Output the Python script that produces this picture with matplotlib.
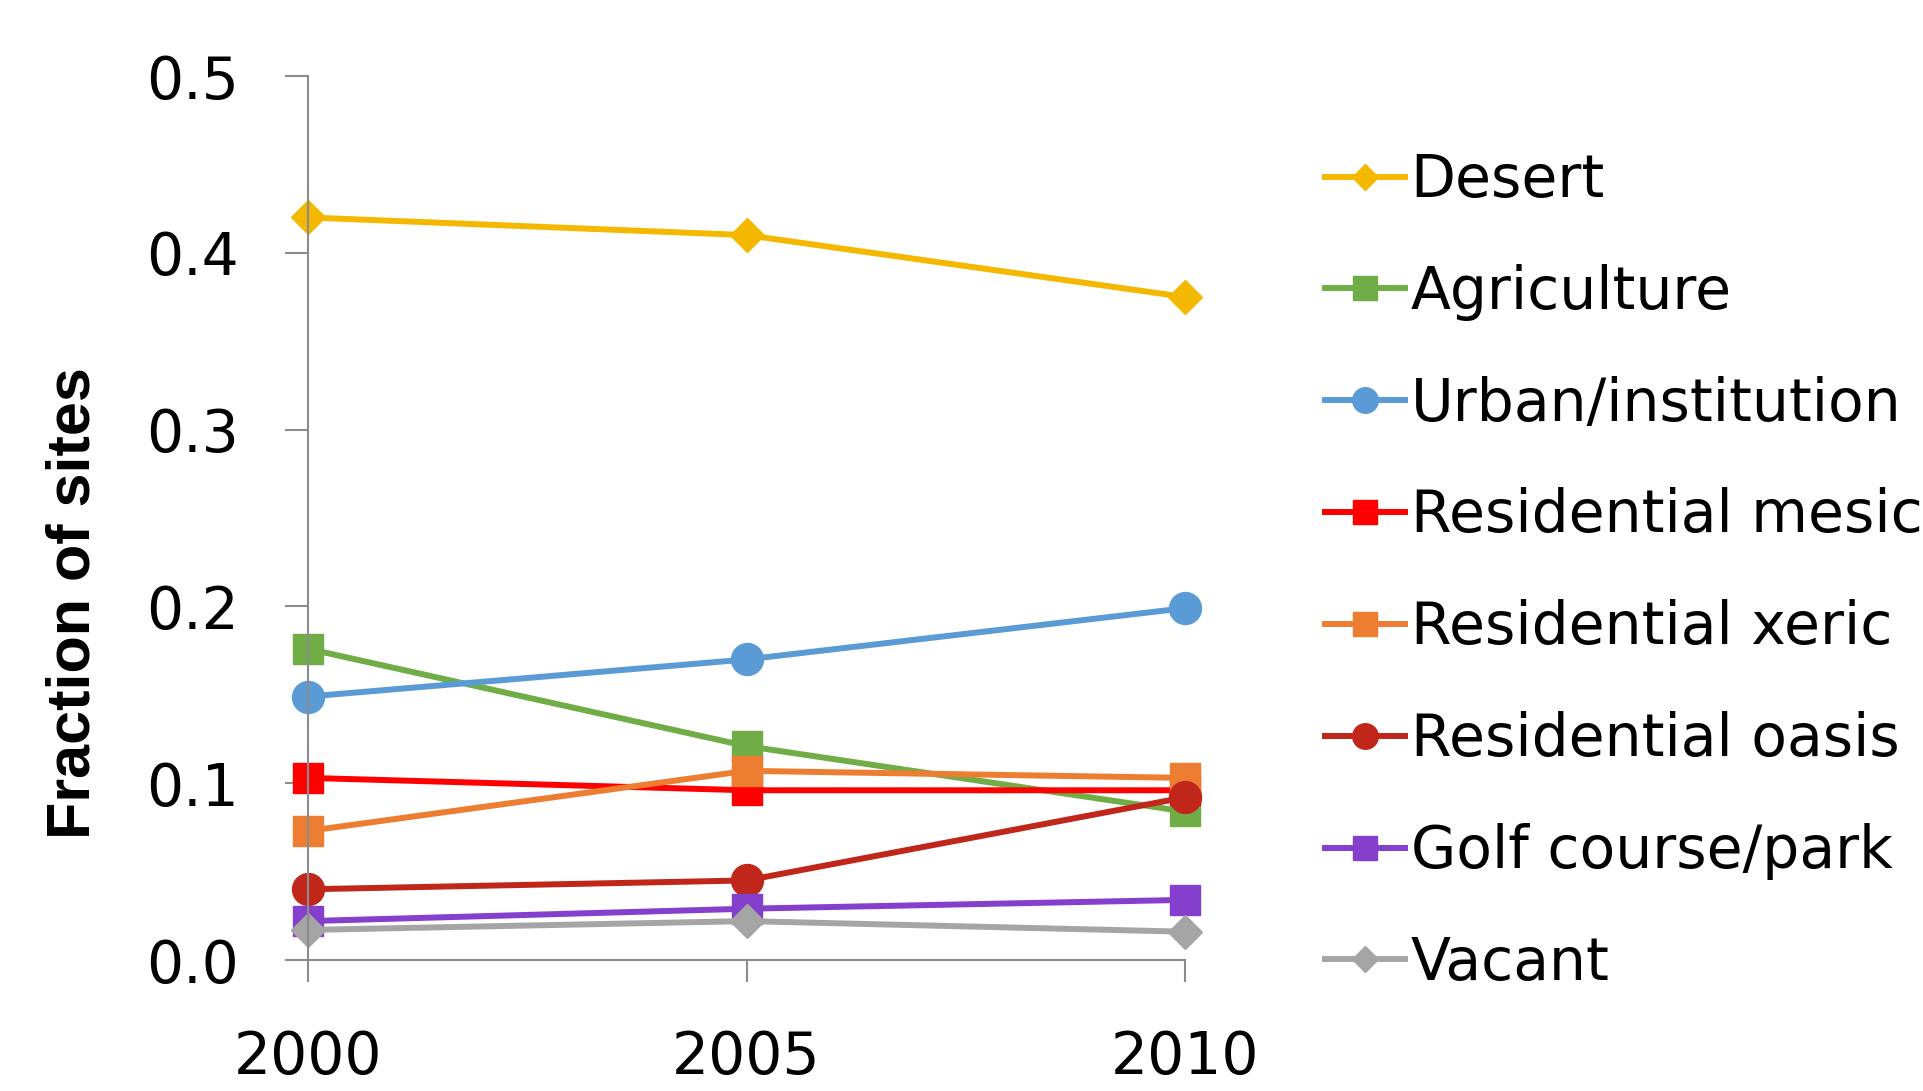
import matplotlib
matplotlib.use("Agg")
import matplotlib.pyplot as plt

years = [2000, 2005, 2010]
labels = ["Desert", "Agriculture", "Urban/institution", "Residential mesic",
          "Residential xeric", "Residential oasis", "Golf course/park", "Vacant"]
desert = [0.420, 0.410, 0.375]
agriculture = [0.176, 0.121, 0.084]
urban = [0.149, 0.170, 0.199]
res_mesic = [0.103, 0.096, 0.096]
res_xeric = [0.073, 0.107, 0.103]
res_oasis = [0.040, 0.045, 0.092]
golf = [0.022, 0.029, 0.034]
vacant = [0.017, 0.022, 0.016]
yticks = [0.0, 0.1, 0.2, 0.3, 0.4, 0.5]

series = [desert, agriculture, urban, res_mesic, res_xeric, res_oasis, golf, vacant]
colors = ["#F5B800", "#70AD47", "#5B9BD5", "#FF0000", "#ED7D31", "#C0271A", "#8440CC", "#A5A5A5"]
markers = ["D", "s", "o", "s", "s", "o", "s", "D"]
msizes = [17, 21, 23, 21, 21, 23, 21, 17]

fig = plt.figure(figsize=(19.23, 10.91), dpi=100)
ax = fig.add_axes([308/1923, 1-960/1091, (1185-308)/1923, (960-76)/1091])

for vals, lab, c, m, ms in zip(series, labels, colors, markers, msizes):
    ax.plot(years, vals, color=c, lw=4.3, marker=m, ms=ms, mec=c, mfc=c,
            label=lab, clip_on=False, solid_joinstyle="round")

ax.set_xlim(2000, 2010)
ax.set_ylim(0, 0.5)
ax.set_xticks(years)
ax.set_xticklabels([str(y) for y in years])
ax.set_yticks(yticks)
ax.set_yticklabels([f"{v:.1f}" for v in yticks])

for s in ["top", "right"]:
    ax.spines[s].set_visible(False)
for s in ["left", "bottom"]:
    ax.spines[s].set_color("#8C8C8C")
    ax.spines[s].set_linewidth(1.5)

ax.tick_params(axis="y", direction="out", length=16.5, width=1.5, color="#8C8C8C",
               pad=33, labelsize=42, labelcolor="black")
ax.tick_params(axis="x", direction="out", length=16, width=1.5, color="#8C8C8C",
               pad=34, labelsize=42, labelcolor="black")

fig.text(74/1923, 1-603/1091, "Fraction of sites", rotation=90, ha="center", va="center",
         fontsize=44, fontweight="bold",
         family=["Liberation Sans Narrow", "Liberation Sans", "DejaVu Sans"])

leg = fig.legend(loc="upper left", bbox_to_anchor=(1325/1923, 1-152/1091),
                 frameon=False, fontsize=42, borderpad=0, borderaxespad=0,
                 handlelength=1.37, handletextpad=0.1, labelspacing=0.94,
                 markerscale=0.8)

fig.savefig("out.png", dpi=100)
